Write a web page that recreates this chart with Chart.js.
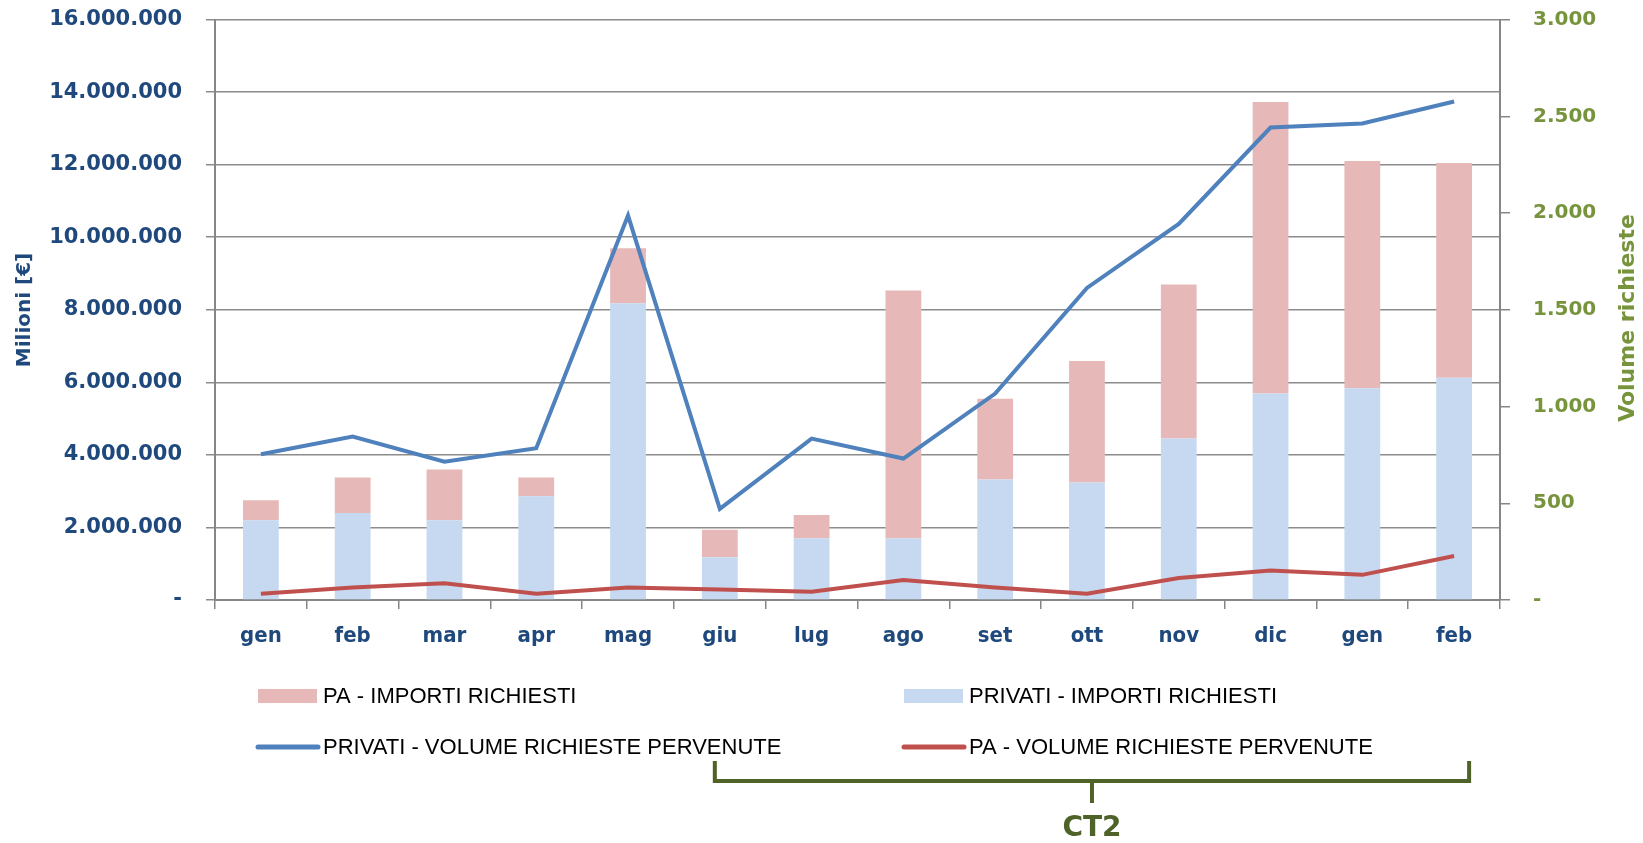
<!DOCTYPE html>
<html>
<head>
<meta charset="utf-8">
<script src="https://cdn.jsdelivr.net/npm/chart.js@4.4.1/dist/chart.umd.min.js"></script>
<style>
  html, body { margin: 0; padding: 0; background: #fff; overflow: hidden; }
  #page { width: 1643px; height: 843px; overflow: hidden; position: relative; }
  #wrap { position: absolute; left: 0; top: -17px; width: 1643px; height: 860px; }
</style>
</head>
<body>
<div id="page"><div id="wrap"><canvas id="chart"></canvas></div></div>
<script>
// dati
var mesi = ['gen', 'feb', 'mar', 'apr', 'mag', 'giu', 'lug', 'ago', 'set', 'ott', 'nov', 'dic', 'gen', 'feb'];
var privatiImporti = [2200000, 2400000, 2200000, 2860000, 8180000, 1180000, 1700000, 1700000, 3320000, 3240000, 4450000, 5690000, 5840000, 6130000];
var paImporti = [550000, 980000, 1400000, 520000, 1520000, 760000, 640000, 6830000, 2230000, 3350000, 4250000, 8040000, 6260000, 5920000];
var privatiVolume = [753, 845, 715, 785, 1987, 471, 834, 731, 1067, 1613, 1944, 2442, 2463, 2577];
var paVolume = [32, 65, 87, 32, 65, 54, 43, 103, 65, 32, 114, 152, 130, 227];

var leftMax = 16000000, leftStep = 2000000;
var rightMax = 3000, rightStep = 500;

var bracketLabel = 'CT2';
var bracketFrom = 5, bracketTo = 13;   // giu -> feb

var boldFont = "'DejaVu Sans', sans-serif";
var narrowFont = "'Liberation Sans Narrow', 'DejaVu Sans Condensed', 'Open Sans', sans-serif";
var legendFont = "'Liberation Sans', Arial, sans-serif";

var shift = 17; // il canvas e' spostato in alto di 17px

function fmt(v) {
  if (v === 0) return '-';
  return String(v).replace(/\B(?=(\d{3})+(?!\d))/g, '.');
}

var legendOrder = [1, 0, 2, 3];

var extras = {
  id: 'extras',
  afterDraw: function(chart) {
    var ctx = chart.ctx;
    ctx.save();
    ctx.translate(0, shift);

    // titoli assi
    ctx.font = 'bold 20px ' + boldFont;
    ctx.textAlign = 'center';
    ctx.textBaseline = 'middle';
    ctx.fillStyle = '#1F497D';
    ctx.save();
    ctx.translate(25, 310);
    ctx.rotate(-Math.PI / 2);
    ctx.fillText('Milioni [€]', 0, 0);
    ctx.restore();
    ctx.font = 'bold 22px ' + boldFont;
    ctx.fillStyle = '#77933C';
    ctx.save();
    ctx.translate(1628, 318);
    ctx.rotate(-Math.PI / 2);
    ctx.fillText('Volume richieste', 0, 0);
    ctx.restore();

    // legenda
    var cols = [258, 904], rows = [696, 747];
    ctx.font = '22px ' + legendFont;
    ctx.textAlign = 'left';
    legendOrder.forEach(function(di, i) {
      var ds = chart.data.datasets[di];
      var x = cols[i % 2], y = rows[Math.floor(i / 2)];
      if (ds.type === 'line') {
        ctx.strokeStyle = ds.borderColor;
        ctx.lineWidth = 5;
        ctx.lineCap = 'round';
        ctx.beginPath();
        ctx.moveTo(x, y);
        ctx.lineTo(x + 60, y);
        ctx.stroke();
      } else {
        ctx.fillStyle = ds.backgroundColor;
        ctx.fillRect(x, y - 7, 59, 14);
      }
      ctx.fillStyle = '#000';
      ctx.fillText(ds.label, x + 65, y + 1);
    });

    // parentesi CT2
    var xs = chart.scales.x;
    var bl = xs.getPixelForValue(bracketFrom) - 5;
    var br = xs.getPixelForValue(bracketTo) + 15;
    var bm = (bl + br) / 2;
    ctx.strokeStyle = '#4F6228';
    ctx.lineWidth = 4;
    ctx.lineCap = 'butt';
    ctx.beginPath();
    ctx.moveTo(bl, 761);
    ctx.lineTo(bl, 781);
    ctx.lineTo(br, 781);
    ctx.lineTo(br, 761);
    ctx.moveTo(bm, 781);
    ctx.lineTo(bm, 803);
    ctx.stroke();
    ctx.fillStyle = '#4F6228';
    ctx.font = 'bold 28px ' + boldFont;
    ctx.textAlign = 'center';
    ctx.fillText(bracketLabel, bm, 829);

    ctx.restore();
  }
};

new Chart(document.getElementById('chart'), {
  data: {
    labels: mesi,
    datasets: [{
      type: 'bar',
      label: 'PRIVATI - IMPORTI RICHIESTI',
      data: privatiImporti,
      backgroundColor: '#C6D9F1',
      yAxisID: 'y',
      stack: 'imp',
      order: 2,
      barPercentage: 0.39,
      categoryPercentage: 1
    }, {
      type: 'bar',
      label: 'PA - IMPORTI RICHIESTI',
      data: paImporti,
      backgroundColor: '#E6B9B8',
      yAxisID: 'y',
      stack: 'imp',
      order: 2,
      barPercentage: 0.39,
      categoryPercentage: 1
    }, {
      type: 'line',
      label: 'PRIVATI - VOLUME RICHIESTE PERVENUTE',
      data: privatiVolume,
      borderColor: '#4F81BD',
      backgroundColor: '#4F81BD',
      borderWidth: 4,
      pointRadius: 0,
      tension: 0,
      yAxisID: 'y1',
      order: 0
    }, {
      type: 'line',
      label: 'PA - VOLUME RICHIESTE PERVENUTE',
      data: paVolume,
      borderColor: '#C0504D',
      backgroundColor: '#C0504D',
      borderWidth: 4,
      pointRadius: 0,
      tension: 0,
      yAxisID: 'y1',
      order: 1
    }]
  },
  options: {
    responsive: true,
    maintainAspectRatio: false,
    animation: false,
    layout: { padding: 0 },
    plugins: {
      legend: { display: false },
      tooltip: { enabled: false }
    },
    scales: {
      x: {
        stacked: true,
        grid: { offset: true, drawOnChartArea: false, tickLength: 9, color: '#868686', lineWidth: 1.5 },
        border: { color: '#868686', width: 2 },
        ticks: { color: '#1F497D', font: { family: narrowFont, size: 22, weight: 'bold' }, padding: 14 },
        afterFit: function(s) { s.height = 243; }
      },
      y: {
        position: 'left',
        stacked: true,
        min: 0,
        max: leftMax,
        ticks: { stepSize: leftStep, callback: fmt, color: '#1F497D', font: { family: boldFont, size: 21, weight: 'bold' }, padding: 24 },
        grid: { color: '#8C8C8C', lineWidth: 1.5, tickLength: 9 },
        border: { color: '#868686', width: 2 },
        afterFit: function(s) { s.width = 215; }
      },
      y1: {
        position: 'right',
        min: 0,
        max: rightMax,
        ticks: { stepSize: rightStep, callback: fmt, color: '#77933C', font: { family: boldFont, size: 20, weight: 'bold' }, padding: 23 },
        grid: { drawOnChartArea: false, color: '#868686', lineWidth: 1.5, tickLength: 10 },
        border: { color: '#868686', width: 2 },
        afterFit: function(s) { s.width = 143; }
      }
    }
  },
  plugins: [extras]
});
</script>
</body>
</html>
